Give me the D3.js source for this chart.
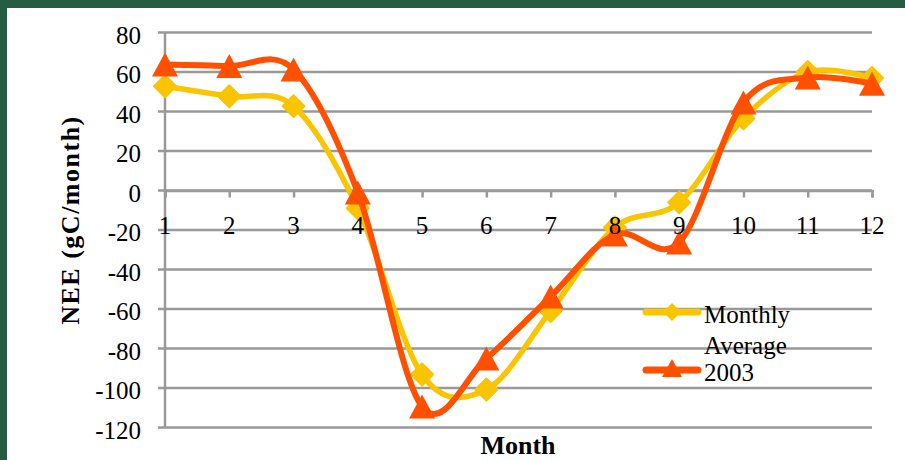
<!DOCTYPE html>
<html>
<head>
<meta charset="utf-8">
<script src="https://cdn.jsdelivr.net/npm/d3@7"></script>
<style>
  html, body { margin: 0; padding: 0; background: #265c42; }
  svg { display: block; }
  text { font-family: "Liberation Serif", "Times New Roman", serif; fill: #000; }
</style>
</head>
<body>
<svg id="chart" width="905" height="460"></svg>
<script>
// Net ecosystem exchange per month (gC/month)
const months = [1, 2, 3, 4, 5, 6, 7, 8, 9, 10, 11, 12];
const monthlyAverage = [52.8, 47.7, 42.7, -9, -93.2, -100.8, -61, -18.7, -6, 36.5, 60, 57];
const year2003 = [63.8, 63, 61.3, -1, -109.4, -85, -53.7, -22.3, -26.3, 44.6, 57.2, 54];
const yTicks = [80, 60, 40, 20, 0, -20, -40, -60, -80, -100, -120];
const seriesNames = ["Monthly Average", "2003"];

const colors = { avg: "#F9C400", y03: "#FF5000", grid: "#999999" };

const svg = d3.select("#chart");

// white panel over the green backdrop
svg.append("rect").attr("x", 7).attr("y", 8).attr("width", 898).attr("height", 452).attr("fill", "#ffffff");

const x = d3.scalePoint().domain(months).range([165, 872]);
const y = d3.scaleLinear().domain([-120, 80]).range([427.5, 32.5]);

// horizontal gridlines (with the left tick stubs)
svg.append("g").selectAll("line").data(yTicks).join("line")
  .attr("x1", 158).attr("x2", 872)
  .attr("y1", d => y(d)).attr("y2", d => y(d))
  .attr("stroke", colors.grid).attr("stroke-width", 2.5);

// vertical axis line
svg.append("line")
  .attr("x1", x(1)).attr("x2", x(1)).attr("y1", y(80)).attr("y2", y(-120))
  .attr("stroke", colors.grid).attr("stroke-width", 2.5);

// category axis through zero, ticks pointing down
const xAxis = svg.append("g").attr("transform", `translate(0,${y(0)})`)
  .call(d3.axisBottom(x).tickSize(7).tickFormat(""));
xAxis.select(".domain").attr("stroke", colors.grid).attr("stroke-width", 2.5);
xAxis.selectAll(".tick line").attr("stroke", colors.grid).attr("stroke-width", 2.5);

// y tick labels
svg.append("g").selectAll("text").data(yTicks).join("text")
  .attr("x", 141).attr("y", d => y(d) + 11)
  .attr("text-anchor", "end").attr("font-size", 25)
  .text(d => d);

// axis titles
svg.append("text")
  .attr("transform", `translate(79,220) rotate(-90)`)
  .attr("text-anchor", "middle").attr("font-size", 26).attr("font-weight", "bold")
  .attr("letter-spacing", 1.5)
  .text("NEE (gC/month)");
svg.append("text")
  .attr("x", 518).attr("y", 454)
  .attr("text-anchor", "middle").attr("font-size", 26).attr("font-weight", "bold")
  .text("Month");

const line = d3.line()
  .x((d, i) => x(months[i]))
  .y(d => y(d))
  .curve(d3.curveCardinal.tension(0));

const diamond = s => `M0,${-s}L${s},0L0,${s}L${-s},0Z`;
const triangle = (w, h) => `M0,${-h / 2}L${w / 2},${h / 2}L${-w / 2},${h / 2}Z`;

// series 1: monthly average
svg.append("path").datum(monthlyAverage)
  .attr("d", line).attr("fill", "none")
  .attr("stroke", colors.avg).attr("stroke-width", 5.5).attr("stroke-linecap", "round");
svg.append("g").selectAll("path").data(monthlyAverage).join("path")
  .attr("transform", (d, i) => `translate(${x(months[i])},${y(d)})`)
  .attr("d", diamond(11))
  .attr("fill", colors.avg).attr("stroke", colors.avg).attr("stroke-width", 2).attr("stroke-linejoin", "round");

// series 2: 2003
svg.append("path").datum(year2003)
  .attr("d", line).attr("fill", "none")
  .attr("stroke", colors.y03).attr("stroke-width", 6).attr("stroke-linecap", "round");
svg.append("g").selectAll("path").data(year2003).join("path")
  .attr("transform", (d, i) => `translate(${x(months[i])},${y(d)})`)
  .attr("d", triangle(26, 24))
  .attr("fill", colors.y03);

// category labels, drawn above the lines
svg.append("g").selectAll("text").data(months).join("text")
  .attr("x", d => x(d)).attr("y", 234)
  .attr("text-anchor", "middle").attr("font-size", 25)
  .text(d => d);

// legend
const legend = svg.append("g");
legend.append("line").attr("x1", 646).attr("x2", 698).attr("y1", 312).attr("y2", 312)
  .attr("stroke", colors.avg).attr("stroke-width", 7).attr("stroke-linecap", "round");
legend.append("path").attr("transform", "translate(672,312)").attr("d", diamond(9))
  .attr("fill", colors.avg);
legend.append("text").attr("x", 704).attr("y", 323).attr("font-size", 25).text("Monthly");
legend.append("text").attr("x", 704).attr("y", 354).attr("font-size", 25).text("Average");
legend.append("line").attr("x1", 646).attr("x2", 698).attr("y1", 370).attr("y2", 370)
  .attr("stroke", colors.y03).attr("stroke-width", 7).attr("stroke-linecap", "round");
legend.append("path").attr("transform", "translate(672,368)").attr("d", triangle(20, 18))
  .attr("fill", colors.y03);
legend.append("text").attr("x", 704).attr("y", 381).attr("font-size", 25).text(seriesNames[1]);
</script>
</body>
</html>
